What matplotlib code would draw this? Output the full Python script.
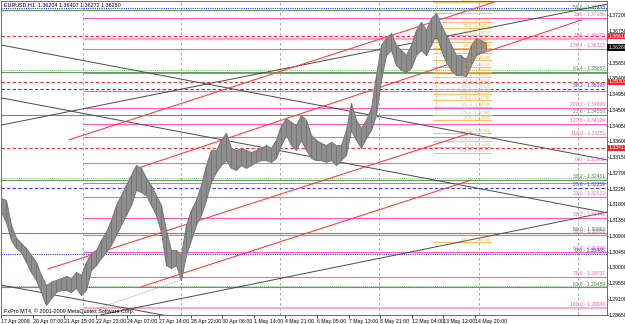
import matplotlib
matplotlib.use("Agg")
import matplotlib.pyplot as plt

plt.rcParams['font.family'] = ['Liberation Sans', 'DejaVu Sans']

# ---------------- data ----------------
bin_x = list(range(0, 490, 5))
highs = [1.3199,1.3193,1.3122,1.3085,1.3070,1.3056,1.3036,1.3016,1.2979,1.2950,
         1.2959,1.2965,1.2970,1.2976,1.2970,1.2987,1.2979,1.3016,1.3042,1.3050,
         1.3079,1.3102,1.3136,1.3179,1.3207,1.3236,1.3265,1.3293,1.3285,1.3256,
         1.3236,1.3207,1.3179,1.3107,1.3050,1.3050,1.3036,1.3122,1.3165,1.3193,
         1.3236,1.3293,1.3336,1.3336,1.3365,1.3385,1.3342,1.3336,1.3342,1.3336,
         1.3330,1.3336,1.3342,1.3350,1.3342,1.3365,1.3407,1.3427,1.3416,1.3407,
         1.3436,1.3422,1.3379,1.3365,1.3356,1.3350,1.3359,1.3350,1.3350,1.3393,
         1.3470,1.3422,1.3399,1.3422,1.3456,1.3550,1.3636,1.3656,1.3670,1.3636,
         1.3622,1.3607,1.3636,1.3679,1.3702,1.3679,1.3713,1.3727,1.3693,1.3665,
         1.3636,1.3607,1.3607,1.3593,1.3636,1.3656,1.3650,1.3642]
lows = [1.3159,1.3130,1.3079,1.3056,1.3045,1.3016,1.2987,1.2965,1.2930,1.2893,
        1.2913,1.2930,1.2936,1.2936,1.2930,1.2942,1.2922,1.2936,1.2993,1.3007,
        1.3027,1.3045,1.3065,1.3093,1.3122,1.3150,1.3179,1.3222,1.3216,1.3207,
        1.3179,1.3150,1.3102,1.3007,1.2999,1.3007,1.2965,1.3036,1.3079,1.3122,
        1.3150,1.3193,1.3245,1.3273,1.3293,1.3307,1.3285,1.3279,1.3293,1.3285,
        1.3293,1.3302,1.3307,1.3307,1.3302,1.3313,1.3350,1.3379,1.3350,1.3336,
        1.3365,1.3336,1.3313,1.3307,1.3307,1.3302,1.3307,1.3293,1.3307,1.3322,
        1.3393,1.3365,1.3342,1.3370,1.3393,1.3436,1.3536,1.3607,1.3622,1.3579,
        1.3565,1.3559,1.3570,1.3607,1.3622,1.3607,1.3636,1.3665,1.3622,1.3587,
        1.3565,1.3550,1.3550,1.3547,1.3579,1.3607,1.3616,1.3622]

time_labels = ["17 Apr 2009", "20 Apr 07:00", "21 Apr 15:00", "22 Apr 23:00",
               "24 Apr 07:00", "27 Apr 14:00", "28 Apr 22:00", "30 Apr 06:00",
               "1 May 14:00", "4 May 21:00", "6 May 05:00", "7 May 13:00",
               "8 May 21:00", "12 May 04:00", "13 May 12:00", "14 May 20:00"]
time_pos = [0, 32, 63, 95, 126, 158, 190, 221, 253, 284, 316, 348, 379, 411, 442, 474]

price_ticks = [1.28658 + 0.0045 * k for k in range(20)]
grid_x = [82, 180, 279, 378, 478, 577]

# full-width horizontal lines
red_dash = [1.36616, 1.35302, 1.33417]
red_dash_box = ["1.36616", "1.35302", "1.33417"]
blue_lines = [1.37402, 1.35102, 1.32274, 1.30388]
blue_styles = ["dot", "dash", "dash", "dot"]
blue_labels = ["", "38.2 - 1.35198", "23.6 - 1.32259", "0.0 - 1.30465"]
green_lines = [1.37345, 1.35645, 1.35588, 1.34360, 1.32559, 1.32502, 1.30988, 1.29474, 1.29431]
green_styles = ["solid", "dot", "solid", "solid", "dot", "solid", "solid", "dot", "solid"]
green_labels = ["58.6 - 1.37445", "", "61.4 - 1.35857", "23.6 - 1.34558", "",
                "38.2 - 1.32461", "50.0 - 1.30891", "", "61.8 - 1.29459"]

# pink fibonacci levels (start at bar 82)
pink_levels = [1.37131, 1.36531, 1.36245, 1.35560, 1.35045, 1.34560, 1.34102,
               1.33731, 1.32988, 1.32417, 1.32017, 1.31417, 1.30931, 1.30445,
               1.29731, 1.28845]
pink_labels = ["200 - 1.37188", "186 - 1.36670", "176.4 - 1.36323", "", "",
               "200.2 - 1.34690", "127.0 - 1.34126", "118.0 - 1.33751",
               "0.0 - 1.32960", "", "23.6 - 1.32022", "38.2 - 1.31446",
               "50.0 - 1.30856", "61.8 - 1.30465", "78.6 - 1.29737",
               "100.0 - 1.28940"]
pink_widths = [0.8, 1.6, 0.8, 0.8, 0.8, 0.8, 0.8, 0.8, 0.8, 0.8, 0.8, 0.8, 0.8,
               0.8, 0.8, 1.4]

# orange fibonacci expansion (short lines)
orange_levels = [1.3759, 1.3727, 1.3702, 1.3685, 1.3665, 1.3645, 1.3627, 1.3613,
                 1.3593, 1.3573, 1.3559, 1.3545, 1.3527, 1.3510, 1.3496, 1.3479,
                 1.3459, 1.3436, 1.3422, 1.3385, 1.3362, 1.3344, 1.3327,
                 1.3073]
orange_labels = ["161.8 - 1.37590", "100.0 - 1.37270", "86.6 - 1.37020",
                 "76.4 - 1.36850", "61.8 - 1.36650", "50.0 - 1.36450",
                 "38.2 - 1.36270", "23.6 - 1.36130", "0.0 - 1.35930",
                 "23.6 - 1.35730", "38.2 - 1.35590", "50.0 - 1.35450",
                 "61.8 - 1.35270", "100.0 - 1.35100", "123.6 - 1.34960",
                 "138.2 - 1.34790", "161.8 - 1.34590", "176.4 - 1.34360",
                 "200 - 1.34220", "223.6 - 1.33850",
                 "238.2 - 1.33620", "250 - 1.33440", "261.8 - 1.33270",
                 "423.6 - 1.30730"]

# trend lines: (bar0, price0, bar1, price1)
black_lines = [(0, 1.3636, 607, 1.3307),
               (0, 1.3485, 607, 1.3156),
               (0, 1.3407, 607, 1.3753),
               (100, 1.2865, 607, 1.3159),
               (0, 1.2950, 170, 1.2860)]
red_lines = [(68, 1.3365, 497, 1.3762),
             (140, 1.3287, 580, 1.3707),
             (47, 1.2996, 470, 1.3385),
             (140, 1.2945, 470, 1.3250)]

title_text = "EURUSD,H1  1.36204 1.36407 1.36272 1.36280"
last_price = 1.36280

# ---------------- drawing ----------------
W, H = 625, 324
FS = 3.6
fig = plt.figure(figsize=(W / 100, H / 100), dpi=100)
fig.patch.set_facecolor("white")
ax = fig.add_axes([1 / W, 9 / H, 606 / W, 314 / H])
ax.set_xlim(0, 606)
ax.set_ylim(1.28645, 1.37616)

for gx in grid_x:
    ax.axvline(gx, color="#a0a0a0", lw=0.6, ls=(0, (3, 3)), zorder=1)

PINK = "#ff5fae"
for lv, lb, w in zip(pink_levels, pink_labels, pink_widths):
    col = PINK if w < 1 else "#ffa6d2"
    ax.plot([82, 606], [lv, lv], color=col, lw=w, zorder=2, solid_capstyle="butt")
    if lb:
        ax.text(604, lv + 0.00025, lb, color=PINK, fontsize=FS, ha="right",
                va="bottom", zorder=6)

for lv, st, lb in zip(green_lines, green_styles, green_labels):
    if st == "dot":
        ax.axhline(lv, color="#7fbf7f", lw=0.7, ls=(0, (1, 1)), zorder=2)
    else:
        ax.axhline(lv, color="#5e9e5e", lw=0.8, zorder=2)
    if lb:
        ax.text(604, lv + 0.00025, lb, color="#4a8a4a", fontsize=FS,
                ha="right", va="bottom", zorder=6)

for lv, st, lb in zip(blue_lines, blue_styles, blue_labels):
    ls = (0, (3, 2)) if st == "dash" else (0, (1, 1))
    ax.axhline(lv, color="#3a3aff", lw=0.8, ls=ls, zorder=2)
    if lb:
        ax.text(604, lv + 0.00025, lb, color="#3a3aff", fontsize=FS,
                ha="right", va="bottom", zorder=6)

for lv in red_dash:
    ax.axhline(lv, color="#ff3030", lw=0.8, ls=(0, (3, 2)), zorder=2)

ORANGE = "#ffb347"
for lv, lb in zip(orange_levels, orange_labels):
    ax.plot([432, 490], [lv, lv], color=ORANGE, lw=0.6, zorder=2)
    ax.text(489, lv + 0.00008, lb, color="#f5a623", fontsize=FS - 0.5, ha="right",
            va="bottom", zorder=6, alpha=0.85)
ax.plot([435, 435], [1.3760, 1.3440], color=ORANGE, lw=0.6, ls=(0, (2, 2)), zorder=2)

for x0, y0, x1, y1 in black_lines:
    ax.plot([x0, x1], [y0, y1], color="#4a4a4a", lw=0.7, zorder=3)
for x0, y0, x1, y1 in red_lines:
    ax.plot([x0, x1], [y0, y1], color="#ff4040", lw=0.8, zorder=3)
ax.plot([90, 137], [1.2985, 1.3299], color="#ff9966", lw=0.6, ls=(0, (1, 1)), zorder=3)
ax.plot([83, 180], [1.2870, 1.2965], color="#999999", lw=0.6, ls=(0, (1, 1)), zorder=3)

# price bars (high/low envelope)
ax.fill_between(bin_x, lows, highs, color="#8e8e8e", lw=0.7, edgecolor="#777777", zorder=4)
ax.vlines(bin_x, lows, highs, color="#767676", lw=0.7, zorder=4)

# axes styling
ax.yaxis.tick_right()
ax.set_yticks(price_ticks)
ax.set_yticklabels([f"{p:.5f}" for p in price_ticks], fontsize=FS + 0.1)
ax.set_xticks(time_pos)
ax.set_xticklabels(time_labels, fontsize=FS + 0.2, ha="left")
ax.tick_params(axis="y", length=1, width=0.5, pad=0.5, colors="black")
ax.tick_params(axis="x", length=2, width=0.5, pad=1, colors="black")
for s in ax.spines.values():
    s.set_color("#555555")
    s.set_linewidth(0.6)

# price boxes on right axis
for lv, t in zip(red_dash, red_dash_box):
    ax.text(1.002, lv, t, transform=ax.get_yaxis_transform(), fontsize=FS + 0.1,
            color="white", va="center", ha="left",
            bbox=dict(boxstyle="square,pad=0.15", fc="#ff2020", ec="none"),
            clip_on=False, zorder=10)
ax.text(1.002, last_price, f"{last_price:.5f}", transform=ax.get_yaxis_transform(),
        fontsize=FS + 0.1, color="white", va="center", ha="left",
        bbox=dict(boxstyle="square,pad=0.15", fc="black", ec="none"),
        clip_on=False, zorder=10)

ax.text(3, 1.37616 - 0.0003, title_text, fontsize=FS + 0.3, color="black",
        ha="left", va="top", zorder=8)
ax.text(3, 1.28645 + 0.0003, "FxPro MT4, \u00a9 2001-2009 MetaQuotes Software Corp.",
        fontsize=FS + 0.3, color="black", ha="left", va="bottom", zorder=8)

fig.savefig("out.png", dpi=100, facecolor="white")
